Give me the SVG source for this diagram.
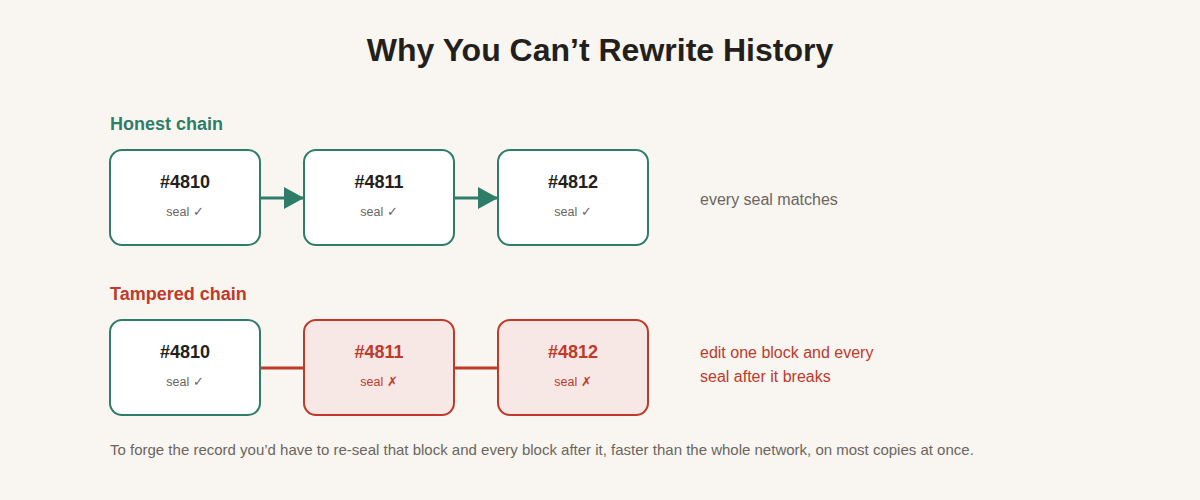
<svg xmlns="http://www.w3.org/2000/svg" width="1200" height="500" viewBox="0 0 1200 500">
<style>
text{font-family:"Liberation Sans",Arial,sans-serif}
.title{font-size:32px;font-weight:bold;fill:#231f1c}
.sec{font-size:18px;font-weight:bold}
.green{fill:#2e7d68}
.red{fill:#c0392b}
.ok{fill:#ffffff;stroke:#2e7d68;stroke-width:2}
.bad{fill:#f8e8e5;stroke:#c0392b;stroke-width:2}
.id{font-size:18px;font-weight:bold;text-anchor:middle}
.seal{font-size:12.5px;text-anchor:middle}
.dark{fill:#231f1c}
.grey{fill:#6b6560}
.note{font-size:16px}
.foot{font-size:15px;fill:#6b6560}
.gline{stroke:#2e7d68;stroke-width:3;fill:none}
.rline{stroke:#c0392b;stroke-width:3;fill:none}
</style>
<defs>
<marker id="ah" markerWidth="20" markerHeight="22" refX="20" refY="11" orient="auto" markerUnits="userSpaceOnUse">
<path d="M0,0 L20,11 L0,22 Z" fill="#2e7d68"/>
</marker>
</defs>
<rect width="1200" height="500" fill="#f9f6f1"/>
<text class="title" x="600" y="61" text-anchor="middle">Why You Can’t Rewrite History</text>
<text class="sec green" x="110" y="130">Honest chain</text>
<text class="sec red" x="110" y="300">Tampered chain</text>
<g id="connectors">
<line class="gline" x1="261" y1="198" x2="304" y2="198" marker-end="url(#ah)"/>
<line class="gline" x1="455" y1="198" x2="498" y2="198" marker-end="url(#ah)"/>
<line class="rline" x1="261" y1="368" x2="304" y2="368"/>
<line class="rline" x1="455" y1="368" x2="498" y2="368"/>
</g>
<g id="h4810"><rect class="ok" x="110" y="150" width="150" height="95" rx="12"/><text class="id dark" x="185" y="188">#4810</text><text class="seal grey" x="185" y="216">seal ✓</text></g>
<g id="h4811"><rect class="ok" x="304" y="150" width="150" height="95" rx="12"/><text class="id dark" x="379" y="188">#4811</text><text class="seal grey" x="379" y="216">seal ✓</text></g>
<g id="h4812"><rect class="ok" x="498" y="150" width="150" height="95" rx="12"/><text class="id dark" x="573" y="188">#4812</text><text class="seal grey" x="573" y="216">seal ✓</text></g>
<g id="t4810"><rect class="ok" x="110" y="320" width="150" height="95" rx="12"/><text class="id dark" x="185" y="358">#4810</text><text class="seal grey" x="185" y="386">seal ✓</text></g>
<g id="t4811"><rect class="bad" x="304" y="320" width="150" height="95" rx="12"/><text class="id red" x="379" y="358">#4811</text><text class="seal red" x="379" y="386">seal ✗</text></g>
<g id="t4812"><rect class="bad" x="498" y="320" width="150" height="95" rx="12"/><text class="id red" x="573" y="358">#4812</text><text class="seal red" x="573" y="386">seal ✗</text></g>
<text class="note grey" x="700" y="205">every seal matches</text>
<text class="note red" x="700" y="358">edit one block and every</text>
<text class="note red" x="700" y="382">seal after it breaks</text>
<text class="foot" x="110" y="455">To forge the record you’d have to re-seal that block and every block after it, faster than the whole network, on most copies at once.</text>
</svg>
